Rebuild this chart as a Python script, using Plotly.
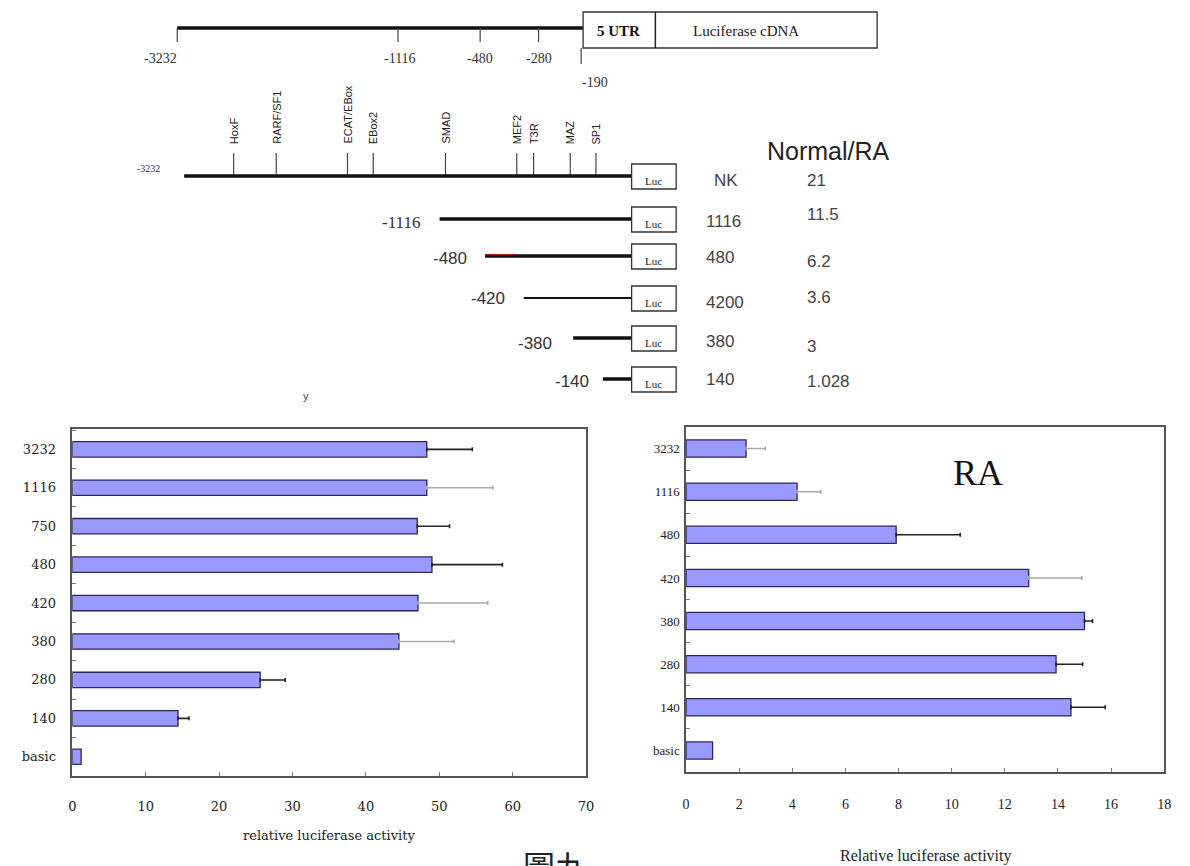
import plotly.graph_objects as go

# ---------------- data ----------------
map_tick_labels = ["-3232", "-1116", "-480", "-280", "-190"]
tf_sites = ["HoxF", "RARF/SF1", "ECAT/EBox", "EBox2", "SMAD", "MEF2", "T3R", "MAZ", "SP1"]
construct_labels = ["-3232", "-1116", "-480", "-420", "-380", "-140"]
construct_names = ["NK", "1116", "480", "4200", "380", "140"]
normal_ra_ratio = ["21", "11.5", "6.2", "3.6", "3", "1.028"]

normal_categories = ["3232", "1116", "750", "480", "420", "380", "280", "140", "basic"]
normal_values = [48.3, 48.3, 47.0, 49.0, 47.1, 44.5, 25.6, 14.4, 1.2]
normal_errors = [6.2, 9.0, 4.4, 9.6, 9.5, 7.5, 3.4, 1.5, 0]
normal_err_gray = [False, True, False, False, True, True, False, False, False]

ra_categories = ["3232", "1116", "480", "420", "380", "280", "140", "basic"]
ra_values = [2.26, 4.18, 7.91, 12.9, 15.0, 13.93, 14.49, 1.0]
ra_errors = [0.72, 0.89, 2.41, 2.0, 0.3, 1.0, 1.29, 0]
ra_err_gray = [True, True, False, True, False, False, False, False]

# ---------------- schematic geometry (canvas-pixel scale of overlay axis) ----------------
W, H = 1190, 866
map_line = (175, 585, 28)
map_tick_x = [175, 398, 481, 540, 583]
map_label_pos = [(158, 58), (400, 58), (481, 58), (540, 58), (597, 82)]
tf_x = [232, 275, 347, 373, 446, 518, 535, 572, 598]
row_y = [176, 219, 256, 298, 338, 379]
row_x0 = [182, 440, 486, 525, 575, 605]
row_w = [3.5, 3.5, 3.5, 1.8, 3.5, 3.5]
row_x1 = 634
luc_x = (634, 679)
label_pos = [(146, 168), (401, 222), (451, 258), (489, 298), (536, 343), (574, 381)]
label_size = [10, 17, 17, 17, 17, 17]
col1_x, col2_x = 707, 809
col1_y = [180, 221, 257, 302, 341, 379]
col2_y = [180, 214, 261, 297, 346, 381]

SERIF = "Liberation Serif"
WSERIF = "DejaVu Serif"
SANS = "Liberation Sans"
BAR_FILL = "#9999ff"
BAR_LINE = "#2a2a55"

fig = go.Figure()

# ---------------- bar charts ----------------
def add_bars(cats, vals, errs, gray, xa, ya):
    fig.add_trace(go.Bar(
        y=cats, x=vals, orientation="h", xaxis=xa, yaxis=ya,
        marker=dict(color=BAR_FILL, line=dict(color=BAR_LINE, width=1.3)),
        showlegend=False, hoverinfo="x+y"))
    for is_gray, col in [(False, "#222222"), (True, "#aaaaaa")]:
        ys = [c for c, e, g in zip(cats, errs, gray) if e > 0 and g == is_gray]
        xs = [v for v, e, g in zip(vals, errs, gray) if e > 0 and g == is_gray]
        es = [e for e, g in zip(errs, gray) if e > 0 and g == is_gray]
        if not ys:
            continue
        fig.add_trace(go.Scatter(
            y=ys, x=xs, mode="markers", xaxis=xa, yaxis=ya,
            marker=dict(size=1, color="rgba(0,0,0,0)"),
            error_x=dict(type="data", symmetric=False, array=es,
                         arrayminus=[0] * len(es), color=col,
                         thickness=1.6, width=2),
            showlegend=False, hoverinfo="skip"))

add_bars(normal_categories, normal_values, normal_errors, normal_err_gray, "x", "y")
add_bars(ra_categories, ra_values, ra_errors, ra_err_gray, "x2", "y2")

# ---------------- schematic (overlay axis x3/y3) ----------------
def seg(xs, ys, color="#111", width=1.2):
    fig.add_trace(go.Scatter(x=xs, y=ys, mode="lines", line=dict(color=color, width=width),
                             xaxis="x3", yaxis="y3", showlegend=False, hoverinfo="skip"))

# top map line + ticks
seg([map_line[0], map_line[1]], [map_line[2], map_line[2]], width=3.5)
for i, (tx, lab) in enumerate(zip(map_tick_x, map_tick_labels)):
    y0, y1 = (28, 42) if i < len(map_tick_x) - 1 else (48, 64)
    seg([tx, tx], [y0, y1], color="#444")
    lx, ly = map_label_pos[i]
    fig.add_annotation(x=lx, y=ly, xref="x3", yref="y3", text=lab, showarrow=False,
                       font=dict(family=SERIF, size=14, color="#333"))

# TF sites on full-length construct
for tx, name in zip(tf_x, tf_sites):
    seg([tx, tx], [153, row_y[0]], color="#444")
    fig.add_annotation(x=tx, y=146, xref="x3", yref="y3", text=name, showarrow=False,
                       textangle=-90, xanchor="center", yanchor="bottom",
                       font=dict(family=SANS, size=11, color="#222"))

# construct lines + labels
for i in range(len(construct_labels)):
    seg([row_x0[i], row_x1], [row_y[i], row_y[i]], width=row_w[i])
    lx, ly = label_pos[i]
    fig.add_annotation(x=lx, y=ly, xref="x3", yref="y3", text=construct_labels[i],
                       showarrow=False,
                       font=dict(family=SERIF if i < 2 else SANS, size=label_size[i], color="#333"))
    fig.add_shape(type="rect", x0=luc_x[0], x1=luc_x[1], y0=row_y[i] - 12, y1=row_y[i] + 13,
                  xref="x3", yref="y3", line=dict(color="#333", width=1.3), fillcolor="white")
    fig.add_annotation(x=(luc_x[0] + luc_x[1]) / 2, y=row_y[i] + 5, xref="x3", yref="y3",
                       text="Luc", showarrow=False,
                       font=dict(family=SERIF, size=11, color="#222"))
    fig.add_annotation(x=col1_x if i > 0 else col1_x + 22, y=col1_y[i], xref="x3", yref="y3",
                       text=construct_names[i],
                       showarrow=False, xanchor="left" if i > 0 else "center",
                       font=dict(family=SANS, size=17, color="#444"))
    fig.add_annotation(x=col2_x, y=col2_y[i], xref="x3", yref="y3", text=normal_ra_ratio[i],
                       showarrow=False, xanchor="left",
                       font=dict(family=SANS, size=17, color="#444"))

# small red segment on -480 construct
seg([row_x0[2], row_x0[2] + 31], [row_y[2] - 1.5, row_y[2] - 1.5], color="#b02020", width=1.2)

fig.add_annotation(x=833, y=151, xref="x3", yref="y3", text="Normal/RA", showarrow=False,
                   font=dict(family=SANS, size=25, color="#222"))
fig.add_annotation(x=305, y=396, xref="x3", yref="y3", text="y", showarrow=False,
                   font=dict(family=SANS, size=11, color="#444"))

# top construct box: 5 UTR | Luciferase cDNA
fig.add_shape(type="rect", x0=585, x1=882, y0=12, y1=48, xref="x3", yref="y3",
              line=dict(color="#333", width=1.3), fillcolor="white")
fig.add_shape(type="line", x0=658, x1=658, y0=12, y1=48, xref="x3", yref="y3",
              line=dict(color="#222", width=1.5))
fig.add_annotation(x=621, y=31, xref="x3", yref="y3", text="<b>5 UTR</b>", showarrow=False,
                   font=dict(family=SERIF, size=15, color="#111"))
fig.add_annotation(x=750, y=31, xref="x3", yref="y3", text="Luciferase cDNA", showarrow=False,
                   font=dict(family=SERIF, size=15, color="#222"))

# figure caption (cut off at bottom edge as in the original page)
fig.add_annotation(x=557, y=840, xref="x3", yref="y3", text="圖九", showarrow=False,
                   yanchor="top",
                   font=dict(family="Noto Sans CJK TC", size=32, color="#222"))

# chart texts
fig.add_annotation(x=0.5, y=-0.2, xref="x domain", yref="y domain",
                   text="relative luciferase activity", showarrow=False,
                   font=dict(family=WSERIF, size=13, color="#222"))
fig.add_annotation(x=0.5, y=-0.275, xref="x2 domain", yref="y2 domain",
                   text="Relative luciferase activity", showarrow=False,
                   font=dict(family=SERIF, size=16, color="#222"))
fig.add_annotation(x=0.61, y=0.93, xref="x2 domain", yref="y2 domain",
                   text="RA", showarrow=False,
                   font=dict(family=SERIF, size=36, color="#111"))

axis_common = dict(showline=True, linecolor="#555", linewidth=1.5, mirror=True,
                   showgrid=False, zeroline=False, ticks="inside", ticklen=4,
                   tickcolor="#777", tickwidth=1)

fig.update_layout(
    width=W, height=H, margin=dict(l=0, r=0, t=0, b=0),
    paper_bgcolor="white", plot_bgcolor="rgba(0,0,0,0)",
    bargap=0.6, showlegend=False,
    xaxis=dict(domain=[69 / W, 588 / W], range=[0, 70], dtick=10,
               tickfont=dict(family=WSERIF, size=13, color="#222"),
               ticklabelstandoff=18, anchor="y", **axis_common),
    yaxis=dict(domain=[1 - 776 / H, 1 - 429 / H], anchor="x",
               categoryorder="array", categoryarray=normal_categories,
               autorange="reversed", tickson="boundaries",
               tickfont=dict(family=WSERIF, size=13, color="#222"),
               ticklabelstandoff=12, **axis_common),
    xaxis2=dict(domain=[689 / W, 1172 / W], range=[0, 18], dtick=2,
                tickfont=dict(family=SERIF, size=14, color="#222"),
                ticklabelstandoff=18, anchor="y2", **axis_common),
    yaxis2=dict(domain=[1 - 772 / H, 1 - 427 / H], anchor="x2",
                categoryorder="array", categoryarray=ra_categories,
                autorange="reversed", tickson="boundaries",
                tickfont=dict(family=SERIF, size=13, color="#222"),
                ticklabelstandoff=2, **axis_common),
    xaxis3=dict(domain=[0, 1], range=[0, W], visible=False, anchor="y3", fixedrange=True),
    yaxis3=dict(domain=[0, 1], range=[H, 0], visible=False, anchor="x3", fixedrange=True),
)

fig.write_html("out.html", config={"displayModeBar": False},
               post_script="document.body.style.margin='0px';")
